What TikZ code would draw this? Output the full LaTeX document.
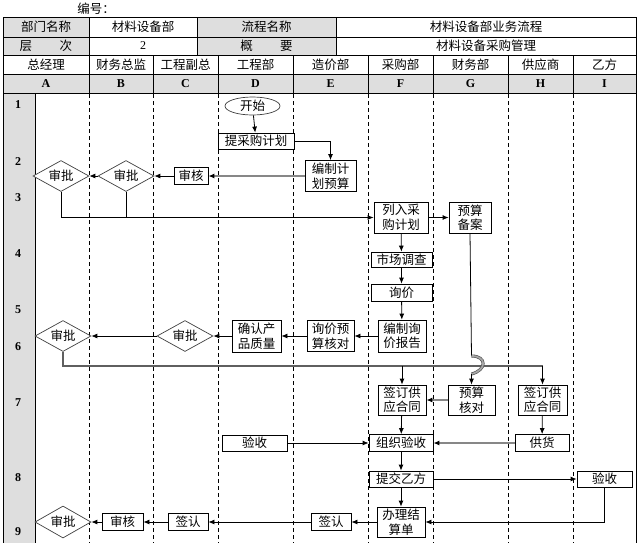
\documentclass[tikz,border=0pt]{standalone}
\usepackage{fontspec}
\newfontfamily\cjk{Noto Sans CJK SC}
\newfontfamily\numf{Liberation Serif}
\usetikzlibrary{shapes.geometric,arrows.meta}
\definecolor{hdr}{RGB}{222,222,222}
\definecolor{lnk}{RGB}{135,135,135}
\definecolor{hline}{RGB}{95,95,95}
\tikzset{
 box/.style={draw, line width=0.8pt, inner sep=0pt, align=center, fill=white,
   font=\cjk\fontsize{12.5}{14.5}\selectfont},
 dia/.style={diamond, draw=black!75, line width=0.7pt, inner sep=0pt, aspect=2,
   minimum width=56pt, minimum height=31pt, fill=white,
   font=\cjk\fontsize{12.5}{14}\selectfont},
 arr/.style={line width=0.8pt, -{Latex[length=6pt,width=5pt]}},
 garr/.style={draw=lnk, line width=1.4pt, -{Latex[length=6pt,width=5pt,color=black]}},
 plain/.style={line width=0.8pt},
 lane/.style={line width=0.7pt, dash pattern=on 4pt off 3pt},
 hd/.style={font=\cjk\fontsize{12.5}{14}\selectfont, inner sep=0pt},
 hl/.style={font=\numf\bfseries\fontsize{12}{14}\selectfont, inner sep=0pt},
 tl/.style={line width=0.8pt},
}
\begin{document}
\begin{tikzpicture}[x=1pt,y=-1pt]
\useasboundingbox (0,0) rectangle (640,542);
\clip (0,0) rectangle (640,542);
\fill[white] (0,0) rectangle (640,542);
% ---------- header ----------
\node[hd] (code) at (96,9) {编号：};
\fill[hdr] (3,17) rectangle (89,55);
\fill[hdr] (197,17) rectangle (336,55);
\fill[hdr] (3,74) rectangle (636,93);
\fill[hdr] (3,93) rectangle (35,545);
\draw[tl] (3,17) rectangle (636,93);
\draw[tl] (3,37) -- (636,37);
\draw[tl] (3,55) -- (636,55);
\draw[tl] (3,74) -- (636,74);
\draw[tl] (89,17) -- (89,55);
\draw[tl] (197,17) -- (197,55);
\draw[tl] (336,17) -- (336,55);
\foreach \x in {89,153,218,293,368,433,508,573} \draw[tl] (\x,55) -- (\x,93);
\node[hd] (h11) at (46,27) {部门名称};
\node[hd] (h12) at (143,27) {材料设备部};
\node[hd] (h13) at (266.5,27) {流程名称};
\node[hd] (h14) at (486,27) {材料设备部业务流程};
\node[hd] (h21) at (46,46) {层\hspace{2.2em}次};
\node[hl,font=\numf\fontsize{12}{14}\selectfont] (h22) at (143,46) {2};
\node[hd] (h23) at (266.5,46) {概\hspace{2.2em}要};
\node[hd] (h24) at (486,46) {材料设备采购管理};
\node[hd] (lA) at (46,64.5) {总经理};
\node[hd] (lB) at (121,64.5) {财务总监};
\node[hd] (lC) at (185.5,64.5) {工程副总};
\node[hd] (lD) at (255.5,64.5) {工程部};
\node[hd] (lE) at (330.5,64.5) {造价部};
\node[hd] (lF) at (400.5,64.5) {采购部};
\node[hd] (lG) at (470.5,64.5) {财务部};
\node[hd] (lH) at (540.5,64.5) {供应商};
\node[hd] (lI) at (604.5,64.5) {乙方};
\node[hl] (cA) at (46,83.5) {A};
\node[hl] (cB) at (121,83.5) {B};
\node[hl] (cC) at (185.5,83.5) {C};
\node[hl] (cD) at (255.5,83.5) {D};
\node[hl] (cE) at (330.5,83.5) {E};
\node[hl] (cF) at (400.5,83.5) {F};
\node[hl] (cG) at (470.5,83.5) {G};
\node[hl] (cH) at (540.5,83.5) {H};
\node[hl] (cI) at (604.5,83.5) {I};
% ---------- body frame ----------
\draw[tl] (3,93) -- (3,545);
\draw[tl] (35,93) -- (35,545);
\draw[tl] (636,93) -- (636,545);
\foreach \x in {89,153,218,293,368,433,508,573} \draw[lane] (\x,94) -- (\x,545);
\node[hl] (r1) at (18,105) {1};
\node[hl] (r2) at (18,162) {2};
\node[hl] (r3) at (18,198) {3};
\node[hl] (r4) at (18,254) {4};
\node[hl] (r5) at (18,310) {5};
\node[hl] (r6) at (18,347) {6};
\node[hl] (r7) at (18,403) {7};
\node[hl] (r8) at (18,478) {8};
\node[hl] (r9) at (18,532) {9};
% ---------- nodes ----------
\node[ellipse, draw=black!75, line width=0.7pt, inner sep=0pt, minimum width=55pt, minimum height=18pt, fill=white, font=\cjk\fontsize{12.5}{14}\selectfont] (start) at (252.5,106) {开始};
\node[box, minimum width=76pt, minimum height=16pt] (plan) at (256,141) {提采购计划};
\node[box, minimum width=51pt, minimum height=31pt] (budget) at (330.5,176) {编制计\\划预算};
\node[box, minimum width=34pt, minimum height=17pt] (sh1) at (191,176) {审核};
\node[dia] (diaB) at (126,176) {审批};
\node[dia] (diaA1) at (61,176) {审批};
\node[box, minimum width=54pt, minimum height=31pt] (lieru) at (401,217.5) {列入采\\购计划};
\node[box, minimum width=42pt, minimum height=31pt] (yusuan) at (470,217.5) {预算\\备案};
\node[box, minimum width=61pt, minimum height=15pt] (shichang) at (401.5,259.5) {市场调查};
\node[box, minimum width=61pt, minimum height=17pt] (xunjia) at (401.5,292.5) {询价};
\node[box, minimum width=48pt, minimum height=32pt] (bianzhi) at (402,336) {编制询\\价报告};
\node[box, minimum width=47pt, minimum height=31pt] (xjys) at (330.5,336) {询价预\\算核对};
\node[box, minimum width=49pt, minimum height=32pt] (queren) at (256.5,336) {确认产\\品质量};
\node[dia] (diaC) at (185,336) {审批};
\node[dia] (diaA2) at (63,336) {审批};
\node[box, minimum width=48pt, minimum height=30pt] (qianF) at (402,400) {签订供\\应合同};
\node[box, minimum width=47pt, minimum height=30pt] (yshd) at (471.5,400) {预算\\核对};
\node[box, minimum width=49pt, minimum height=30pt] (qianH) at (542.5,400) {签订供\\应合同};
\node[box, minimum width=64pt, minimum height=17pt] (zzys) at (401,443) {组织验收};
\node[box, minimum width=54pt, minimum height=17pt] (gonghuo) at (542,443) {供货};
\node[box, minimum width=65pt, minimum height=16pt] (ysD) at (254.5,443) {验收};
\node[box, minimum width=64pt, minimum height=16pt] (tijiao) at (401,479) {提交乙方};
\node[box, minimum width=55pt, minimum height=16pt] (ysI) at (604.5,479) {验收};
\node[box, minimum width=48pt, minimum height=30pt] (jiesuan) at (401,522) {办理结\\算单};
\node[box, minimum width=40pt, minimum height=17pt] (qrE) at (331,522) {签认};
\node[box, minimum width=40pt, minimum height=17pt] (qrC) at (188,522) {签认};
\node[box, minimum width=41pt, minimum height=17pt] (shB) at (122.5,522) {审核};
\node[dia, minimum height=32pt] (diaA3) at (63,522) {审批};
% ---------- connectors ----------
\draw[arr] (start) -- (plan);
\draw[arr] (plan.east) -| (budget.north);
\draw[garr] (budget.west) -- (sh1.east);
\draw[arr] (sh1.west) -- (diaB.east);
\draw[arr] (diaB.west) -- (diaA1.east);
\draw[arr] (diaA1.south) |- (lieru.west);
\draw[plain] (diaB.south) -- (diaB.south |- lieru.west);
\draw[arr] (lieru.east) -- (yusuan.west);
\draw[arr] (lieru) -- (shichang);
\draw[arr] (shichang) -- (xunjia);
\draw[arr] (xunjia) -- (bianzhi);
\draw[arr] (bianzhi.west) -- (xjys.east);
\draw[arr] (xjys.west) -- (queren.east);
\draw[arr] (queren.west) -- (diaC.east);
\draw[arr] (diaC.west) -- (diaA2.east);
\coordinate (bus) at (63,366);
\draw[draw=hline, line width=1.1pt] (diaA2.south) -- (bus) -- (bus -| qianH.north);
\draw[arr] (bus -| qianH.north) -- (qianH.north);
\draw[arr] (bus -| qianF.north) -- (qianF.north);
\coordinate (hopa) at (471.5,356);
\coordinate (hopb) at (471.5,374);
\draw[plain] (yusuan.south) -- (hopa);
\draw[draw=black!70, line width=0.6pt, double=black!35, double distance=1.8pt] (hopa) .. controls (487,356) and (487,370) .. (hopb);
\draw[arr] (hopb) -- (yshd.north);
\draw[garr] (yshd.west) -- (qianF.east);
\draw[arr] (qianF) -- (zzys);
\draw[arr] (qianH) -- (gonghuo);
\draw[garr] (gonghuo.west) -- (zzys.east);
\draw[arr] (ysD.east) -- (zzys.west);
\draw[arr] (zzys) -- (tijiao);
\draw[arr] (tijiao.east) -- (ysI.west);
\draw[arr] (tijiao) -- (jiesuan);
\draw[arr] (ysI.south) |- (jiesuan.east);
\draw[arr] (jiesuan.west) -- (qrE.east);
\draw[arr] (qrE.west) -- (qrC.east);
\draw[arr] (qrC.west) -- (shB.east);
\draw[arr] (shB.west) -- (diaA3.east);
\end{tikzpicture}
\end{document}
